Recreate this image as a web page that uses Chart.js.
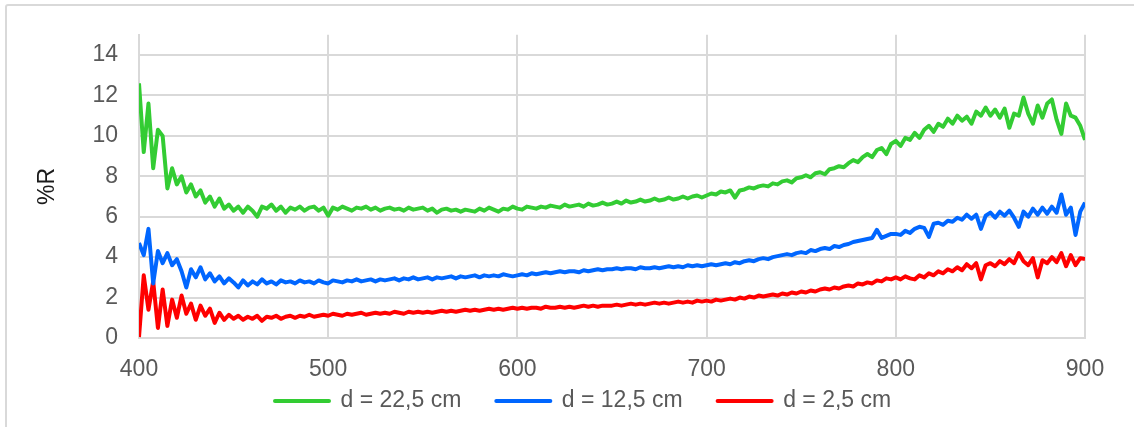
<!DOCTYPE html>
<html>
<head>
<meta charset="utf-8">
<script src="https://cdn.jsdelivr.net/npm/chart.js@4.4.1/dist/chart.umd.min.js"></script>
<style>
  html, body { margin: 0; padding: 0; background: #ffffff; }
  #wrap { position: relative; width: 1134px; height: 427px; overflow: hidden; background: #ffffff; }
  #frame { position: absolute; left: 5px; top: 4px; width: 1150px; height: 450px;
           border: 2px solid #d9d9d9; border-radius: 3px; box-sizing: border-box; }
  #c { position: absolute; left: 0; top: 0; }
</style>
</head>
<body>
<div id="wrap">
  <div id="frame"></div>
  <canvas id="c" width="1134" height="427"></canvas>
</div>
<script>
// Reflectance spectra (%R) sampled every 2.5 nm from 400 to 900 nm
const wavelengthStart = 400;
const wavelengthStep = 2.5;

const xTicks = [400, 500, 600, 700, 800, 900];
const yTicks = [0, 2, 4, 6, 8, 10, 12, 14];

const seriesLabels = ['d = 22,5 cm', 'd = 12,5 cm', 'd = 2,5 cm'];
const seriesColors = ['#33CC33', '#0066FF', '#FF0000'];

// d = 22,5 cm
const reflect225 = [
  12.6, 9.2, 11.6, 8.4, 10.3, 10.0, 7.4, 8.4, 7.6, 8.0, 7.2, 7.6, 7.0, 7.3, 6.7, 7.0, 6.5, 6.9, 6.4, 6.6,
  6.3, 6.5, 6.2, 6.5, 6.3, 6.0, 6.5, 6.4, 6.6, 6.3, 6.5, 6.2, 6.45, 6.35, 6.5, 6.3, 6.45, 6.5, 6.3, 6.45,
  6.05, 6.45, 6.35, 6.5, 6.4, 6.3, 6.45, 6.4, 6.5, 6.35, 6.45, 6.3, 6.4, 6.45, 6.35, 6.4, 6.3, 6.45, 6.35, 6.4,
  6.45, 6.3, 6.4, 6.2, 6.35, 6.4, 6.3, 6.35, 6.25, 6.35, 6.3, 6.25, 6.4, 6.3, 6.45, 6.35, 6.25, 6.4, 6.35, 6.5,
  6.4, 6.35, 6.5, 6.45, 6.4, 6.5, 6.45, 6.55, 6.5, 6.45, 6.6, 6.5, 6.55, 6.6, 6.5, 6.65, 6.55, 6.6, 6.7, 6.6,
  6.65, 6.75, 6.65, 6.8, 6.7, 6.75, 6.85, 6.75, 6.8, 6.9, 6.8, 6.85, 6.95, 6.85, 6.9, 7.0, 6.9, 7.0, 7.05, 6.95,
  7.05, 7.15, 7.1, 7.25, 7.2, 7.3, 6.95, 7.3, 7.35, 7.45, 7.4, 7.5, 7.55, 7.5, 7.65, 7.6, 7.75, 7.8, 7.7, 7.9,
  7.95, 8.05, 7.95, 8.15, 8.2, 8.1, 8.35, 8.4, 8.5, 8.45, 8.65, 8.8, 8.7, 8.95, 9.1, 8.95, 9.3, 9.4, 9.1, 9.6,
  9.75, 9.5, 9.9, 9.8, 10.15, 9.9, 10.3, 10.5, 10.2, 10.6, 10.45, 10.85, 10.6, 11.0, 10.75, 10.95, 10.6, 11.2, 11.0, 11.4,
  11.0, 11.3, 10.9, 11.35, 10.4, 11.1, 11.0, 11.9, 11.1, 10.6, 11.5, 10.9, 11.6, 11.8, 10.8, 10.1, 11.6, 11.0, 10.9, 10.5,
  9.8
];

// d = 12,5 cm
const reflect125 = [
  4.7, 4.1, 5.4, 2.7, 4.3, 3.7, 4.2, 3.6, 3.9, 3.3, 2.5, 3.4, 3.0, 3.5, 2.9, 3.2, 2.8, 3.05, 2.7, 2.95,
  2.75, 2.5, 2.85, 2.6, 2.8, 2.65, 2.9, 2.7, 2.8, 2.65, 2.85, 2.75, 2.8, 2.7, 2.85, 2.75, 2.8, 2.7, 2.85, 2.75,
  2.7, 2.85, 2.8, 2.75, 2.85, 2.8, 2.9, 2.8, 2.85, 2.9, 2.8, 2.9, 2.85, 2.9, 2.95, 2.85, 2.95, 2.9, 3.0, 2.9,
  2.95, 3.0, 2.9, 3.0, 2.95, 3.0, 3.05, 2.95, 3.05, 3.0, 3.05, 3.1, 3.0, 3.1, 3.05, 3.1, 3.05, 3.15, 3.1, 3.05,
  3.1, 3.15, 3.1, 3.2, 3.15, 3.2, 3.25, 3.2, 3.25, 3.3, 3.25, 3.3, 3.3, 3.25, 3.35, 3.3, 3.35, 3.4, 3.35, 3.4,
  3.4, 3.45, 3.4, 3.45, 3.45, 3.4, 3.5, 3.45, 3.45, 3.5, 3.45, 3.5, 3.55, 3.5, 3.55, 3.5, 3.6, 3.55, 3.6, 3.55,
  3.6, 3.65, 3.6, 3.65, 3.7, 3.65, 3.75, 3.7, 3.8, 3.85, 3.8, 3.9, 3.95, 3.9, 4.0, 4.05, 4.1, 4.15, 4.1, 4.2,
  4.25, 4.2, 4.35, 4.3, 4.4, 4.45, 4.4, 4.55, 4.5, 4.6, 4.65, 4.75, 4.8, 4.85, 4.9, 4.95, 5.35, 4.95, 5.05, 5.15,
  5.15, 5.1, 5.3, 5.2, 5.4, 5.5, 5.45, 5.0, 5.65, 5.7, 5.6, 5.8, 5.75, 5.95, 5.85, 6.1, 5.9, 6.1, 5.4, 6.05,
  6.2, 5.95, 6.25, 6.05, 6.3, 5.95, 5.5, 6.25, 6.0, 6.4, 6.1, 6.45, 6.15, 6.5, 6.2, 7.1, 6.1, 6.45, 5.1, 6.25,
  6.7
];

// d = 2,5 cm
const reflect25 = [
  0.05, 3.1, 1.4, 2.8, 0.5, 2.4, 0.6, 1.9, 1.0, 2.1, 1.2, 1.7, 0.9, 1.6, 1.1, 1.45, 0.75, 1.25, 0.9, 1.15,
  0.95, 1.1, 0.9, 1.05, 0.95, 1.1, 0.85, 1.05, 1.0, 1.1, 0.95, 1.05, 1.1, 1.0, 1.1, 1.05, 1.15, 1.05, 1.1, 1.15,
  1.1, 1.2, 1.15, 1.1, 1.2, 1.15, 1.2, 1.25, 1.15, 1.2, 1.25, 1.2, 1.25, 1.2, 1.3, 1.25, 1.2, 1.3, 1.25, 1.3,
  1.25, 1.3, 1.25, 1.3, 1.35, 1.3, 1.35, 1.3, 1.35, 1.4, 1.35, 1.4, 1.35, 1.4, 1.45, 1.4, 1.45, 1.4, 1.45, 1.5,
  1.45, 1.5, 1.45, 1.5, 1.5, 1.45, 1.55, 1.5, 1.5, 1.55, 1.5, 1.55, 1.5, 1.55, 1.6, 1.55, 1.6, 1.55, 1.6, 1.6,
  1.6, 1.65, 1.6, 1.65, 1.7, 1.65, 1.7, 1.65, 1.7, 1.75, 1.7, 1.75, 1.7, 1.75, 1.8, 1.75, 1.8, 1.75, 1.85, 1.8,
  1.85, 1.8, 1.9, 1.85, 1.9, 1.95, 1.9, 2.0, 1.95, 2.05, 2.0, 2.1, 2.05, 2.1, 2.15, 2.1, 2.2, 2.15, 2.25, 2.2,
  2.3, 2.25, 2.35, 2.3, 2.4, 2.45, 2.4, 2.5, 2.45, 2.55, 2.6, 2.55, 2.7, 2.65, 2.75, 2.7, 2.85, 2.8, 2.95, 2.9,
  3.0, 2.9, 3.05, 2.95, 2.9, 3.1, 3.0, 3.2, 3.1, 3.3, 3.2, 3.4, 3.3, 3.5, 3.35, 3.65, 3.45, 3.7, 2.9, 3.6,
  3.7, 3.55, 3.8, 3.65, 3.9, 3.7, 4.2, 3.8, 3.6, 3.95, 3.0, 3.85, 3.7, 4.0, 3.75, 4.2, 3.55, 4.1, 3.6, 3.95,
  3.9
];

const wavelengths = reflect225.map((_, i) => wavelengthStart + i * wavelengthStep);
const toPoints = values => values.map((v, i) => ({ x: wavelengths[i], y: v }));
const seriesValues = [reflect225, reflect125, reflect25];

const TEXT_GREY = '#595959';
const GRID_GREY = '#d9d9d9';
const FONT = "'Liberation Sans', Arial, Helvetica, sans-serif";
Chart.defaults.font.family = FONT;

// Puts the legend row under the plot: first item starts at x = 275, text centred on y = 401
const legendPlacement = {
  id: 'legendPlacement',
  afterLayout(chart) {
    const lg = chart.legend;
    if (!lg || !lg.lineWidths) return;
    const labels = lg.options.labels;
    const pad = labels.padding;
    const start = (lg.left + pad + lg.right - lg.lineWidths[0]) / 2;
    const dx = 275 - start;
    const dy = 401 - (lg.top + pad + labels.font.size / 2);
    lg.left += dx;
    lg.right += dx;
    lg.top += dy;
    lg.bottom = lg.top + 80;
    lg.height = lg.bottom - lg.top;
  }
};

new Chart(document.getElementById('c'), {
  type: 'line',
  data: {
    datasets: seriesValues.map((vals, k) => ({
      label: seriesLabels[k],
      data: toPoints(vals),
      borderColor: seriesColors[k],
      backgroundColor: seriesColors[k],
      borderWidth: 4,
      pointRadius: 0,
      tension: 0,
      fill: false,
      borderJoinStyle: 'round'
    }))
  },
  options: {
    responsive: false,
    animation: false,
    devicePixelRatio: 1,
    layout: { padding: { left: 0, right: 49, top: 26, bottom: 0 } },
    plugins: {
      tooltip: { enabled: false },
      legend: {
        position: 'bottom',
        maxHeight: 43,
        labels: {
          usePointStyle: true,
          pointStyle: 'line',
          pointStyleWidth: 54,
          padding: 35,
          color: TEXT_GREY,
          font: { size: 23 },
          generateLabels: chart =>
            Chart.defaults.plugins.legend.labels.generateLabels(chart)
              .map(item => Object.assign(item, { lineWidth: 4, lineCap: 'round' }))
        }
      }
    },
    scales: {
      x: {
        type: 'linear',
        min: 400,
        max: 900,
        afterBuildTicks: s => { s.ticks = xTicks.map(v => ({ value: v })); },
        afterFit: s => { s.height = 46; },
        grid: { color: GRID_GREY, lineWidth: 2, drawTicks: false },
        border: { color: GRID_GREY, width: 2 },
        ticks: { color: TEXT_GREY, font: { size: 23 }, padding: 18, maxRotation: 0, autoSkip: false }
      },
      y: {
        min: 0,
        max: 15,
        afterBuildTicks: s => { s.ticks = yTicks.map(v => ({ value: v })); },
        afterFit: s => { s.width = 139; },
        grid: { color: GRID_GREY, lineWidth: 2, drawTicks: false },
        border: { color: GRID_GREY, width: 2 },
        ticks: { color: TEXT_GREY, font: { size: 23 }, padding: 21 },
        title: { display: true, text: '%R', color: '#1a1a1a', font: { size: 23 }, padding: { top: 34, bottom: 0 } }
      }
    }
  },
  plugins: [legendPlacement]
});
</script>
</body>
</html>
